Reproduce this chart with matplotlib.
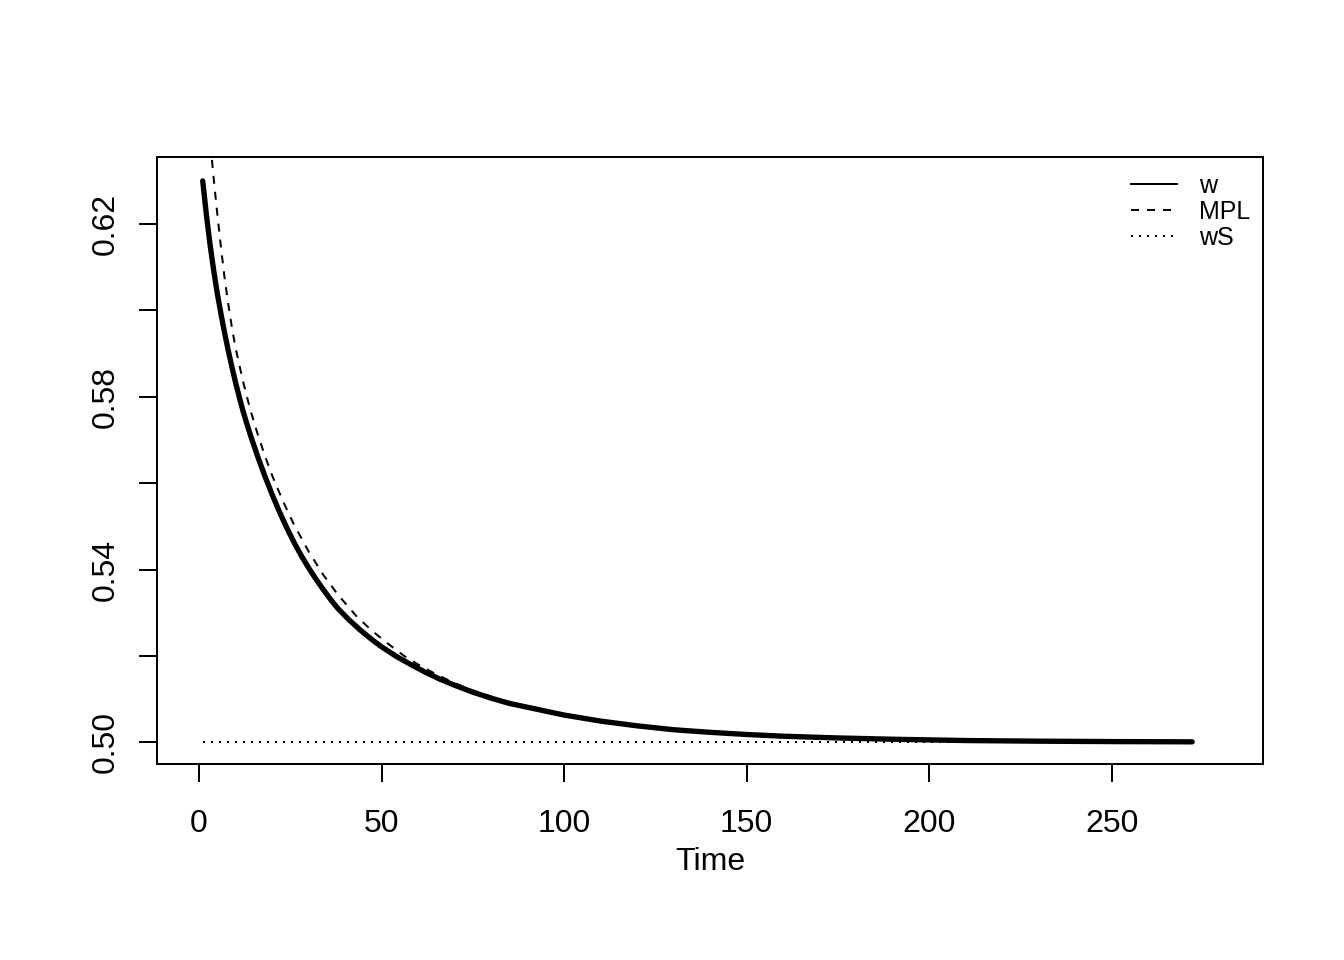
import matplotlib
matplotlib.use("Agg")
import matplotlib.pyplot as plt
from matplotlib.lines import Line2D

plt.rcParams['font.family'] = ['Liberation Sans', 'DejaVu Sans']

# w (thick solid)
t_w = [1, 2, 3, 4, 5, 6, 7, 8, 9, 10, 11, 12, 13, 14, 15, 16, 18, 20, 22, 24,
       26, 28, 30, 32, 34, 36, 38, 41, 44, 47, 50, 54, 58, 62, 66, 70, 75, 80,
       85, 90, 95, 100, 110, 120, 130, 140, 150, 160, 175, 190, 210, 230, 250,
       272]
w = [0.6300, 0.6222, 0.6153, 0.6093, 0.6039, 0.5992, 0.5948, 0.5907, 0.5869,
     0.5833, 0.5800, 0.5768, 0.5740, 0.5713, 0.5688, 0.5663, 0.5617, 0.5574,
     0.5534, 0.5497, 0.5463, 0.5432, 0.5404, 0.5378, 0.5354, 0.5331, 0.5310,
     0.5284, 0.5261, 0.5240, 0.5221, 0.5199, 0.5180, 0.5162, 0.5146, 0.5132,
     0.5116, 0.5102, 0.5090, 0.5081, 0.5072, 0.5063, 0.5049, 0.5038, 0.5029,
     0.5023, 0.5018, 0.5014, 0.5010, 0.5007, 0.5004, 0.50025, 0.50016, 0.5001]

# MPL (dashed)
t_mpl = [1, 2, 3, 4, 5, 6, 7, 8, 9, 10, 12, 14, 16, 18, 20, 23, 26, 30, 34, 38,
         43, 47, 51, 56, 60, 65, 70, 75, 80, 85, 90, 100, 120, 150, 200, 272]
mpl = [0.6607, 0.6498, 0.6397, 0.6306, 0.6223, 0.6146, 0.6075, 0.6015, 0.5960,
       0.5913, 0.5837, 0.5771, 0.5715, 0.5664, 0.5618, 0.5558, 0.5504, 0.5442,
       0.5388, 0.5342, 0.5293, 0.5261, 0.5233, 0.5201, 0.5180, 0.5157, 0.5137,
       0.5120, 0.5106, 0.5093, 0.5082, 0.5064, 0.5038, 0.5018, 0.5005, 0.5001]

# wS (dotted)
t_ws = [1, 272]
ws = [0.5, 0.5]

xticks = [0, 50, 100, 150, 200, 250]
yticks = [0.50, 0.52, 0.54, 0.56, 0.58, 0.60, 0.62]
ylabels = ["0.50", "", "0.54", "", "0.58", "", "0.62"]

fig = plt.figure(figsize=(7, 5), dpi=192)
ax = fig.add_axes([0.82 / 7, 1.02 / 5, 1 - 1.24 / 7, 1 - 1.84 / 5])

ax.plot(t_ws, ws, color="black", lw=0.75, linestyle=(0, (1, 3)))
ax.plot(t_mpl, mpl, color="black", lw=0.75, linestyle=(0, (4, 4)))
ax.plot(t_w, w, color="black", lw=2.0, solid_capstyle="round",
        solid_joinstyle="round")

ax.set_xlim(-11.4, 291.5)
ax.set_ylim(0.49493, 0.63543)
ax.set_xticks(xticks)
ax.set_yticks(yticks)
ax.set_yticklabels(ylabels)

for s in ax.spines.values():
    s.set_linewidth(0.75)
ax.tick_params(direction="out", length=6.9, width=0.75, labelsize=12)
ax.tick_params(axis="x", pad=10)
ax.tick_params(axis="y", pad=7, labelrotation=90)
for lab in ax.get_yticklabels():
    lab.set_va("center")

ax.set_xlabel("Time", fontsize=12, labelpad=3)

handles = [Line2D([], [], color="black", lw=0.75),
           Line2D([], [], color="black", lw=0.75, linestyle=(0, (4, 4))),
           Line2D([], [], color="black", lw=0.75, linestyle=(0, (1, 3)))]
ax.legend(handles, ["w", "MPL", "wS"], loc="upper left",
          bbox_to_anchor=(1131 / 1344, 1 - 174 / 960),
          bbox_transform=fig.transFigure, frameon=False, fontsize=9.4,
          borderpad=0, borderaxespad=0, handlelength=1.83,
          handletextpad=0.88, labelspacing=0.07)

fig.savefig("out.png", dpi=192)
